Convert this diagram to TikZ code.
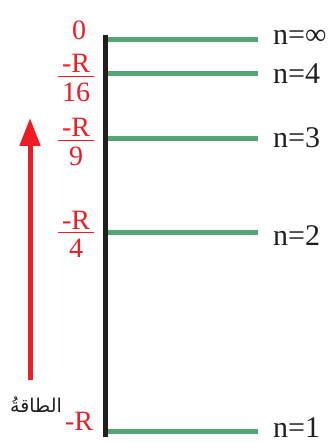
\documentclass[tikz,border=0pt]{standalone}
\usepackage{fontspec}
\setmainfont{Liberation Serif}
\newfontfamily\arabicfont[Script=Arabic]{DejaVu Sans}
\TeXXeTstate=1
\definecolor{LevelGreen}{HTML}{56A577}
\definecolor{EnergyRed}{HTML}{EE1C25}
\definecolor{AxisBlack}{HTML}{231F20}
\usetikzlibrary{arrows.meta,positioning}
\newcommand{\energyfrac}[1]{$\frac{\makebox[36pt]{-R}}{\mbox{\rule{0pt}{24pt}#1}}$}
\begin{document}
\begin{tikzpicture}[
    x=1pt, y=1pt,
    level/.style={LevelGreen, line width=5pt},
    axisline/.style={AxisBlack, line width=5pt},
    nlabel/.style={anchor=west, inner sep=0pt, text=AxisBlack, font=\fontsize{30}{32}\selectfont},
    elabel/.style={inner sep=0pt, text=EnergyRed, font=\fontsize{28}{30}\selectfont},
    energyarrow/.style={EnergyRed, line width=5pt, -{Triangle[width=20pt, length=28pt]}}
  ]
  \useasboundingbox (0,0) rectangle (333,443);
  % axis
  \coordinate (top) at (105,408);
  \coordinate (bottom) at (105,6);
  \draw[axisline] (top) -- (bottom);
  % energy levels
  \coordinate (inf) at (108,403);
  \coordinate (l4) at (108,369);
  \coordinate (l3) at (108,304);
  \coordinate (l2) at (108,210);
  \coordinate (l1) at (108,11);
  \coordinate (infend) at (258,403);
  \coordinate (l4end) at (258,369);
  \coordinate (l3end) at (258,304);
  \coordinate (l2end) at (258,210);
  \coordinate (l1end) at (258,11);
  \draw[level] (inf) -- (infend);
  \draw[level] (l4) -- (l4end);
  \draw[level] (l3) -- (l3end);
  \draw[level] (l2) -- (l2end);
  \draw[level] (l1) -- (l1end);
  % quantum numbers
  \node[nlabel] (ninf) at (273,406) {n=∞};
  \node[nlabel] (n4) at (273,369) {n=4};
  \node[nlabel] (n3) at (273,305) {n=3};
  \node[nlabel] (n2) at (273,207) {n=2};
  \node[nlabel] (n1) at (273,15) {n=1};
  % energies
  \node[elabel] (e0) at (79,413) {0};
  \node[elabel] (e4) at (76,365) {\energyfrac{16}};
  \node[elabel] (e3) at (76,301) {\energyfrac{9}};
  \node[elabel] (e2) at (76,209) {\energyfrac{4}};
  \node[elabel] (e1) at (79,22) {-R};
  % energy arrow
  \coordinate (foot) at (30,63);
  \coordinate (tip) at (30,325);
  \draw[energyarrow] (foot) -- (tip);
  \node[inner sep=0pt, text=AxisBlack, font=\arabicfont\fontsize{19}{20}\selectfont] (energy) at (36,38) {\beginR الطاقةُ\endR};
\end{tikzpicture}
\end{document}
